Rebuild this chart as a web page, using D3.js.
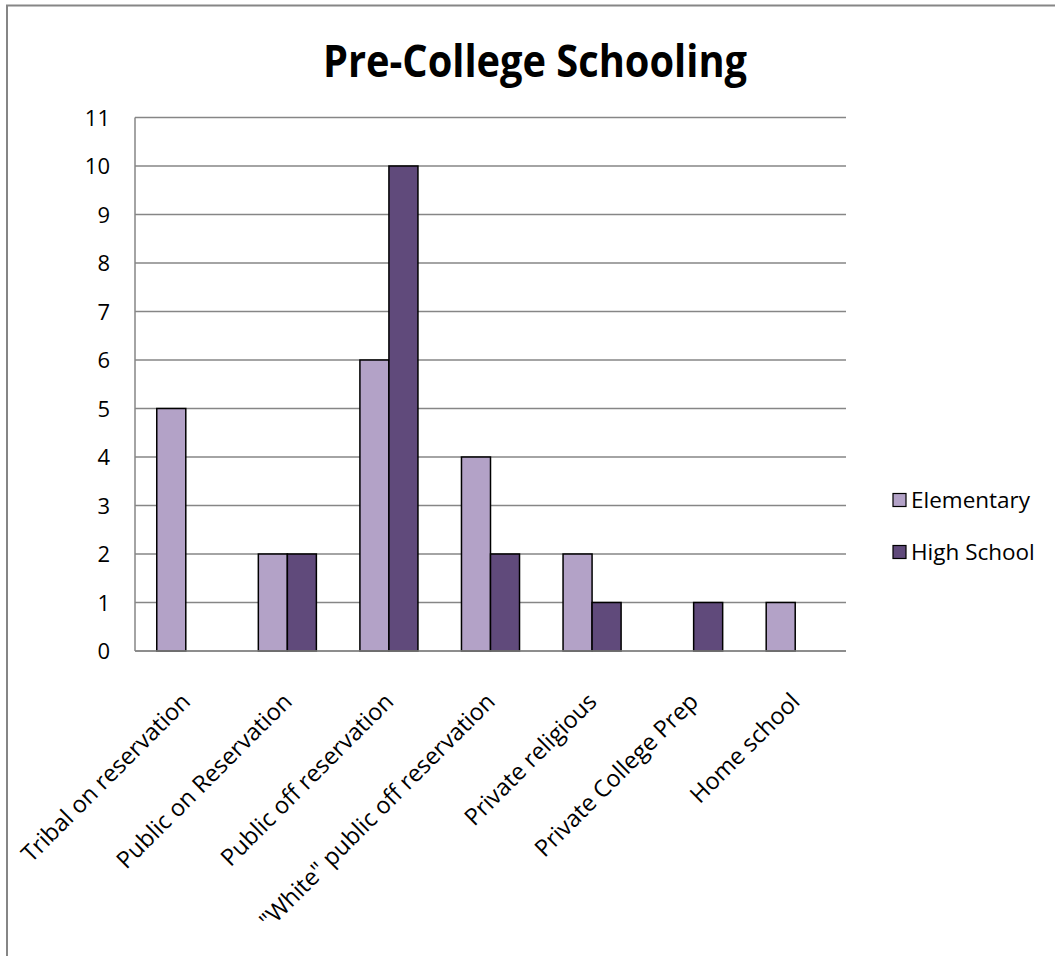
<!DOCTYPE html>
<html>
<head>
<meta charset="utf-8">
<script src="https://cdn.jsdelivr.net/npm/d3@7"></script>
<style>
  html, body { margin: 0; padding: 0; background: #fff; }
  svg { display: block; }
</style>
</head>
<body>
<svg id="chart" width="1055" height="956"></svg>
<script>
// Pre-college schooling counts by school type
const categories = [
  "Tribal on reservation",
  "Public on Reservation",
  "Public off reservation",
  "\"White\" public off reservation",
  "Private religious",
  "Private College Prep",
  "Home school"
];
const seriesNames = ["Elementary", "High School"];
const elementary = [5, 2, 6, 4, 2, 0, 1];
const highSchool = [0, 2, 10, 2, 1, 1, 0];
const yTicks = [0, 1, 2, 3, 4, 5, 6, 7, 8, 9, 10, 11];
const colors = ["#B3A2C7", "#604A7B"];

const svg = d3.select("#chart");
const font = "'Open Sans', 'Noto Sans', sans-serif";

// outer chart frame
svg.append("path")
  .attr("d", "M7,960 L7,5.5 L1060,5.5")
  .attr("fill", "none")
  .attr("stroke", "#868686")
  .attr("stroke-width", 2);

const plot = { left: 135, right: 846, top: 117.5, bottom: 651 };

const x = d3.scaleBand()
  .domain(categories)
  .range([plot.left, plot.right]);

const y = d3.scaleLinear()
  .domain([0, 11])
  .range([plot.bottom, plot.top]);

const barW = x.bandwidth() / 3.5;

// title
svg.append("text")
  .attr("x", 535)
  .attr("y", 77)
  .attr("text-anchor", "middle")
  .attr("font-family", font)
  .attr("font-weight", "bold")
  .attr("font-size", 44)
  .attr("textLength", 424)
  .attr("lengthAdjust", "spacingAndGlyphs")
  .attr("fill", "#000")
  .text("Pre-College Schooling");

// gridlines
svg.append("g")
  .selectAll("line")
  .data(yTicks)
  .join("line")
  .attr("x1", plot.left)
  .attr("x2", plot.right)
  .attr("y1", d => y(d))
  .attr("y2", d => y(d))
  .attr("stroke", "#868686")
  .attr("stroke-width", 1.5);

// left edge of plot area
svg.append("line")
  .attr("x1", plot.left).attr("x2", plot.left)
  .attr("y1", plot.top).attr("y2", plot.bottom)
  .attr("stroke", "#868686")
  .attr("stroke-width", 1.5);

// y axis labels
const yAxis = d3.axisLeft(y).tickValues(yTicks).tickSize(0).tickPadding(0);
const yg = svg.append("g")
  .attr("transform", `translate(${plot.left - 25},0)`)
  .call(yAxis);
yg.select(".domain").remove();
yg.selectAll("text")
  .attr("font-family", font)
  .attr("font-size", 22)
  .attr("fill", "#000")
  .attr("dy", "0.36em");

// bars
const series = [elementary, highSchool];
series.forEach((vals, si) => {
  svg.append("g")
    .selectAll("rect")
    .data(categories.map((c, i) => ({ c, v: vals[i] })).filter(d => d.v > 0))
    .join("rect")
    .attr("x", d => x(d.c) + x.bandwidth() / 2 - barW + si * barW)
    .attr("y", d => y(d.v))
    .attr("width", barW)
    .attr("height", d => y(0) - y(d.v))
    .attr("fill", colors[si])
    .attr("stroke", "#000")
    .attr("stroke-width", 1.5);
});

// x axis line on top of bars
svg.append("line")
  .attr("x1", plot.left).attr("x2", plot.right)
  .attr("y1", y(0)).attr("y2", y(0))
  .attr("stroke", "#868686")
  .attr("stroke-width", 1.5);

// category labels, rotated
const xAxis = d3.axisBottom(x).tickSize(0).tickPadding(0);
const xg = svg.append("g")
  .attr("transform", `translate(0,${plot.bottom})`)
  .call(xAxis);
xg.select(".domain").remove();
xg.selectAll("text")
  .attr("font-family", font)
  .attr("font-size", 23.5)
  .attr("fill", "#000")
  .attr("text-anchor", "end")
  .attr("dy", null)
  .attr("y", 0)
  .attr("transform", "translate(6,52) rotate(-45)");

// legend
const legend = svg.append("g");
seriesNames.forEach((name, i) => {
  const ly = 500 + i * 52;
  legend.append("rect")
    .attr("x", 893)
    .attr("y", ly - 6.5)
    .attr("width", 13)
    .attr("height", 13)
    .attr("fill", colors[i])
    .attr("stroke", "#000")
    .attr("stroke-width", 1.2);
  legend.append("text")
    .attr("x", 911)
    .attr("y", ly)
    .attr("dy", "0.36em")
    .attr("font-family", font)
    .attr("font-size", 22.5)
    .attr("fill", "#000")
    .text(name);
});
</script>
</body>
</html>
